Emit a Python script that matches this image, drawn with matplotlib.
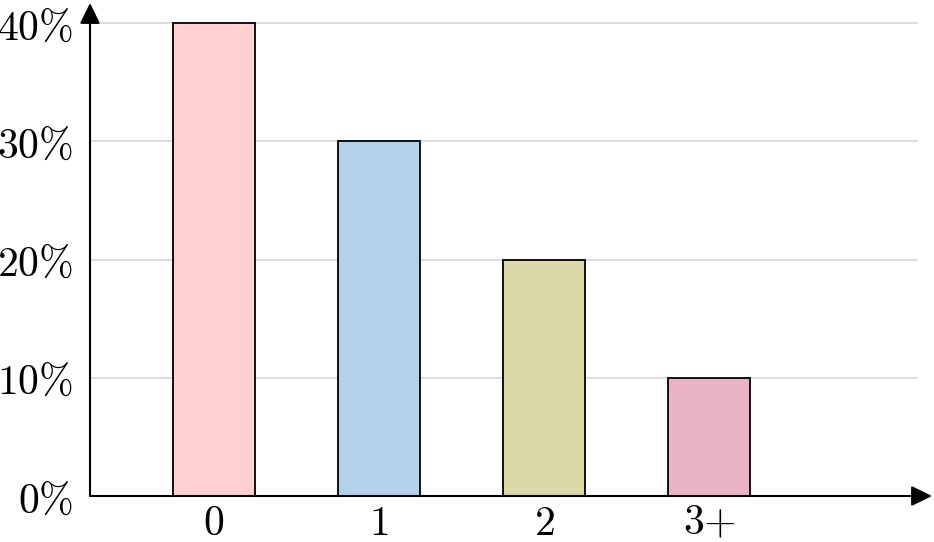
import matplotlib as mpl
import matplotlib.pyplot as plt

categories = ["0", "1", "2", "3{+}"]
shares = [40, 30, 20, 10]
bar_colors = ["#FFD0D0", "#B3D1EA", "#DDD8A7", "#EAB3C5"]
y_ticks = [0, 10, 20, 30, 40]

mpl.rcParams.update({
    "mathtext.fontset": "cm",
    "font.size": 30,
})

W, H = 934, 542
fig = plt.figure(figsize=(W / 100, H / 100), dpi=100)
# axes box in pixels: x 90..932, y 3..496 (from top)
ax = fig.add_axes([90 / W, (H - 496) / H, (932 - 90) / W, (496 - 3) / H])

xs = list(range(len(categories)))
x_lo, x_hi = -0.75, 4.35
grid_end = 4.26

for y in y_ticks[1:]:
    ax.plot([x_lo, grid_end], [y, y], color="#DCDCDC", lw=1.4, zorder=0)

ax.bar(xs, shares, width=0.5, color=bar_colors, edgecolor="black", linewidth=1.3, zorder=2)

ax.set_xlim(x_lo, x_hi)
ax.set_ylim(0, 41.7)

for s in ax.spines.values():
    s.set_visible(False)

# arrowed axes
arrow = dict(arrowstyle="-|>,head_length=0.45,head_width=0.22", color="black", lw=1.5,
             mutation_scale=28, shrinkA=0, shrinkB=0)
ax.annotate("", xy=(1, 0), xytext=(0, 0), xycoords="axes fraction", arrowprops=arrow)
ax.annotate("", xy=(0, 1), xytext=(0, 0), xycoords="axes fraction", arrowprops=arrow)

ax.set_xticks(xs)
ax.set_xticklabels([f"${c}$" for c in categories])
ax.set_yticks(y_ticks)
ax.set_yticklabels([rf"${v}\%$" for v in y_ticks])
ax.tick_params(axis="both", length=0)
ax.tick_params(axis="x", pad=4)
ax.tick_params(axis="y", pad=12)

fig.savefig("out.png", dpi=100)
